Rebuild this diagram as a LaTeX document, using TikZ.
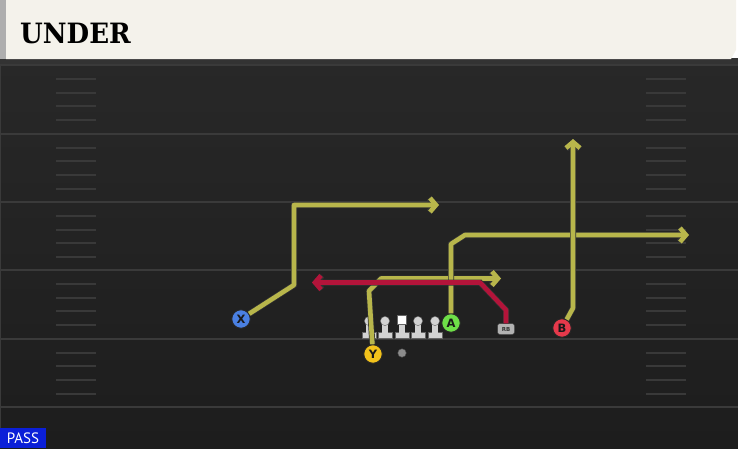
\documentclass[tikz,border=0pt]{standalone}
\usepackage{fontspec}
\setmainfont{DejaVu Sans}
\newfontfamily\titlefont{DejaVu Serif}
\newfontfamily\tagfont{PT Sans}
\usetikzlibrary{arrows.meta}

\definecolor{fieldtop}{HTML}{282828}
\definecolor{fieldbottom}{HTML}{1D1D1D}
\definecolor{yardgray}{HTML}{3A3A3A}
\definecolor{hashgray}{HTML}{393939}
\definecolor{headcream}{HTML}{F4F2EB}
\definecolor{headgray}{HTML}{AEAEAE}
\definecolor{routeyellow}{HTML}{B8B64B}
\definecolor{routered}{HTML}{B3143A}
\definecolor{xblue}{HTML}{4A80E2}
\definecolor{yyellow}{HTML}{F2C21B}
\definecolor{agreen}{HTML}{6EDF48}
\definecolor{bred}{HTML}{E6394B}
\definecolor{linegray}{HTML}{D2D2D2}
\definecolor{passblue}{HTML}{0B1FD8}

\tikzset{
    yardline/.style={yardgray, line width=2pt},
    hashmark/.style={hashgray, line width=2pt},
    player/.style={circle, draw=black!85, line width=0.9pt, minimum size=18.5pt,
        inner sep=0pt, text=black!90, font=\bfseries\fontsize{11.5}{11.5}\selectfont},
    route/.style={routeyellow, line width=4.6pt, line join=round,
        -{Straight Barb[length=6pt, width=14pt]},
        preaction={draw=black!80, line width=6pt}},
    runroute/.style={route, routered},
    lineman/.pic={
        \fill[linegray, draw=black!60, line width=0.4pt] (-7,11) rectangle (7,17);
        \fill[linegray] (-3,2) rectangle (3,11.5);
        \fill[linegray, draw=black!60, line width=0.4pt] (0,0) circle (4.6);
    },
    center/.pic={
        \fill[linegray, draw=black!60, line width=0.4pt] (-7,11) rectangle (7,17);
        \fill[linegray] (-3,2) rectangle (3,11.5);
        \fill[white, draw=black!60, line width=0.4pt] (-4.5,-6) rectangle (4.5,3.5);
    }
}

\begin{document}
\begin{tikzpicture}[x=1pt, y=-1pt]
    \useasboundingbox (0,0) rectangle (738,448);

    % field
    \shade[top color=fieldtop, bottom color=fieldbottom] (0,58) rectangle (738,448);
    \fill[black!80] (0,58) rectangle (738,64);
    \draw[yardgray, line width=1pt] (0.5,64) -- (0.5,448);
    \draw[yardline] (0,65) -- (738,65);
    \draw[yardline] (0,133.5) -- (738,133.5);
    \draw[yardline] (0,202) -- (738,202);
    \draw[yardline] (0,270) -- (738,270);
    \draw[yardline] (0,338.5) -- (738,338.5);
    \draw[yardline] (0,407) -- (738,407);
    \foreach \y in {65,133.5,202,270,338.5}
        \foreach \d in {14,27.5,41,55} {
            \draw[hashmark] (56,\y+\d) -- (96,\y+\d);
            \draw[hashmark] (646,\y+\d) -- (686,\y+\d);
        }

    % header
    \fill[headgray] (0,0) rectangle (6,59);
    \fill[headcream] (6,0) -- (736,0) -- (736,50) -- (731,59) -- (6,59) -- cycle;
    \node (title) [anchor=west, inner sep=0pt, xscale=0.93,
        font=\titlefont\bfseries\fontsize{28}{28}\selectfont] at (20,33) {UNDER};

    % line
    \pic at (369,321) {lineman};
    \pic at (385,321) {lineman};
    \pic at (402,321) {center};
    \pic at (418,321) {lineman};
    \pic at (435,321) {lineman};
    \node (ball) [circle, fill=black!45, draw=black!70, line width=0.4pt,
        minimum size=8.5pt, inner sep=0pt] at (402,353) {};

    % players
    \node (x) [player, fill=xblue] at (241,319) {X};
    \node (y) [player, fill=yyellow] at (373,354) {Y};
    \node (a) [player, fill=agreen] at (451,323) {A};
    \node (b) [player, fill=bred] at (562,328) {B};
    \node (rb) [rounded corners=2.5pt, fill=black!30, draw=black!75, line width=0.5pt,
        minimum width=17pt, minimum height=11pt, inner sep=0pt,
        font=\bfseries\fontsize{5.5}{5.5}\selectfont, text=black!80] at (506,329) {RB};

    % routes
    \coordinate (xend) at (439,205);
    \coordinate (yend) at (501,278.5);
    \coordinate (aend) at (689,235);
    \coordinate (bend) at (573,139);
    \coordinate (rbend) at (312,282.5);
    \draw[route] (x) -- (294,285) -- (294,205) -- (xend);
    \draw[route] (y) -- (369,291) -- (381,278.5) -- (yend);
    \draw[route] (a) -- (451,244) -- (465,235) -- (aend);
    \draw[route] (b) -- (573,308) -- (bend);
    \draw[runroute] (rb) -- (506,310) -- (480,282.5) -- (rbend);

    % tag
    \fill[passblue] (0,428) rectangle (46,448);
    \node (pass) [text=white, inner sep=0pt, font=\tagfont\fontsize{15}{15}\selectfont]
        at (23,438.5) {PASS};
\end{tikzpicture}
\end{document}
